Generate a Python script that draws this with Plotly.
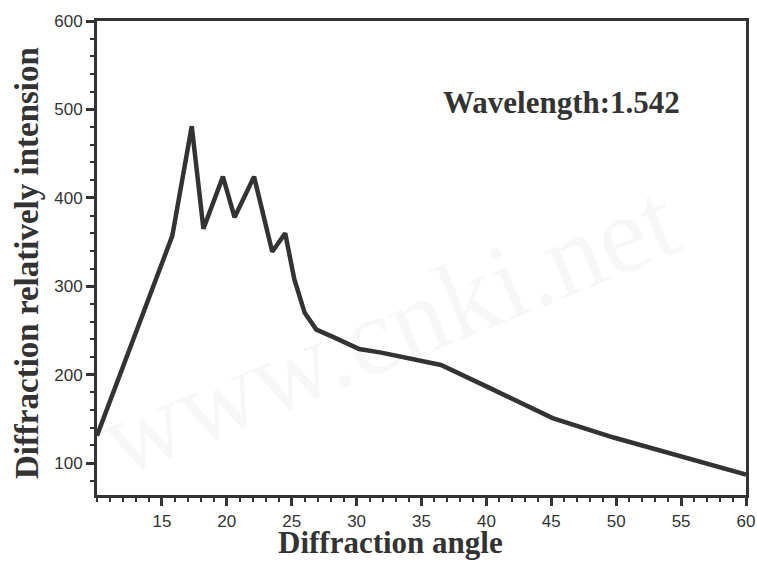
import plotly.graph_objects as go

angle = [10.0, 15.6, 15.8, 17.3, 18.2, 19.7, 20.6, 22.1, 23.5, 24.5, 25.2, 26.0, 26.9, 28.3, 30.2, 31.9, 36.5, 40.4, 45.1, 49.8, 60.0]
intensity = [131, 352, 357, 481, 365, 424, 378, 424, 339, 360, 308, 270, 251, 242, 229, 225, 211, 184, 151, 129, 87]
x_ticks = [15, 20, 25, 30, 35, 40, 45, 50, 55, 60]
y_ticks = [100, 200, 300, 400, 500, 600]

line_col = "#333333"
fig = go.Figure()
fig.add_trace(go.Scatter(x=angle, y=intensity, mode="lines",
                         line=dict(color=line_col, width=4.5), showlegend=False))

fig.add_annotation(x=45.8, y=508, xref="x", yref="y", text="<b>Wavelength:1.542</b>",
                   showarrow=False, font=dict(family="Liberation Serif", size=31, color="#333333"))
fig.add_annotation(x=0.45, y=0.35, xref="paper", yref="paper", text="www.cnki.net",
                   showarrow=False, textangle=-22,
                   font=dict(family="Liberation Serif", size=110, color="rgba(0,0,0,0.03)"))
# axis titles
fig.add_annotation(x=0.453, y=-0.101, xref="paper", yref="paper", yanchor="middle",
                   text="<b>Diffraction angle</b>", showarrow=False,
                   font=dict(family="Liberation Serif", size=31, color="#333333"))
fig.add_annotation(x=-0.108, y=0.489, xref="paper", yref="paper", xanchor="center", yanchor="middle",
                   text="<b>Diffraction relatively intension</b>", showarrow=False, textangle=-90,
                   font=dict(family="Liberation Serif", size=33, color="#333333"))

axis_common = dict(showline=True, linecolor=line_col, linewidth=3, mirror=True,
                   ticks="outside", tickcolor=line_col, tickwidth=3, ticklen=8,
                   showgrid=False, zeroline=False, automargin=False,
                   tickfont=dict(family="Liberation Sans", size=17, color="#333333"))

fig.update_xaxes(range=[10, 60], tickvals=x_ticks, ticklabelstandoff=1,
                 minor=dict(dtick=1, ticks="outside", ticklen=4, tickwidth=2, tickcolor=line_col, showgrid=False),
                 **axis_common)
fig.update_yaxes(range=[64, 600], tickvals=y_ticks,
                 minor=dict(dtick=20, tick0=0, ticks="outside", ticklen=4, tickwidth=2, tickcolor=line_col, showgrid=False),
                 **axis_common)

fig.update_layout(width=757, height=563, margin=dict(l=97, r=11, t=21, b=68),
                  plot_bgcolor="white", paper_bgcolor="white")
# remove the browser's default 8px body margin so the figure fills the window exactly
fig.write_html("out.html", config={"displayModeBar": False},
               post_script="document.body.style.margin='0';document.body.style.overflow='hidden';")
